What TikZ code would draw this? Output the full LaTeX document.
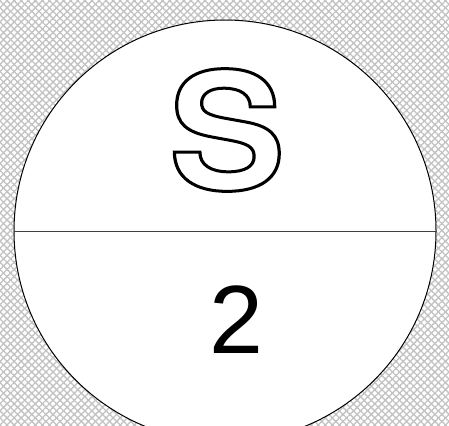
\documentclass[tikz,border=0pt]{standalone}
\usepackage{fontspec}
\setmainfont{Liberation Sans}
\newfontfamily\sboldfont{texgyreheros-bold}[Extension=.otf]
\usetikzlibrary{patterns.meta}
\tikzset{
  bgpat/.style={pattern={Lines[angle=45,distance=5bp,line width=1.3bp]},pattern color=black!24},
  bgpat2/.style={pattern={Lines[angle=-45,distance=5bp,line width=1.3bp]},pattern color=black!24},
  ring/.style={draw=black,line width=1bp,fill=white},
  divider/.style={draw=black!75,line width=1bp},
  letter/.style={inner sep=0pt,xscale=1.07,font=\sboldfont\fontsize{163bp}{163bp}\selectfont},
  digit/.style={inner sep=0pt,font=\fontsize{97bp}{97bp}\selectfont}
}
\begin{document}
\begin{tikzpicture}[x=1bp,y=-1bp]
\useasboundingbox (0,0) rectangle (449,425);
\fill[white] (0,0) rectangle (449,425);
\fill[bgpat] (0,0) rectangle (449,425);
\fill[bgpat2] (0,0) rectangle (449,425);
\begin{scope}
\clip (0,0) rectangle (449,425);
\path[ring] (225,231) circle[radius=211bp];
\end{scope}
\coordinate (L) at (14,231);
\coordinate (R) at (436,231);
\draw[divider] (L) -- (R);
\node[letter] (S) at (227,130) {\special{pdf:literal direct 1 Tr 3 w}S\special{pdf:literal direct 0 Tr}};
\node[digit] (two) at (236,320) {2};
\end{tikzpicture}
\end{document}
